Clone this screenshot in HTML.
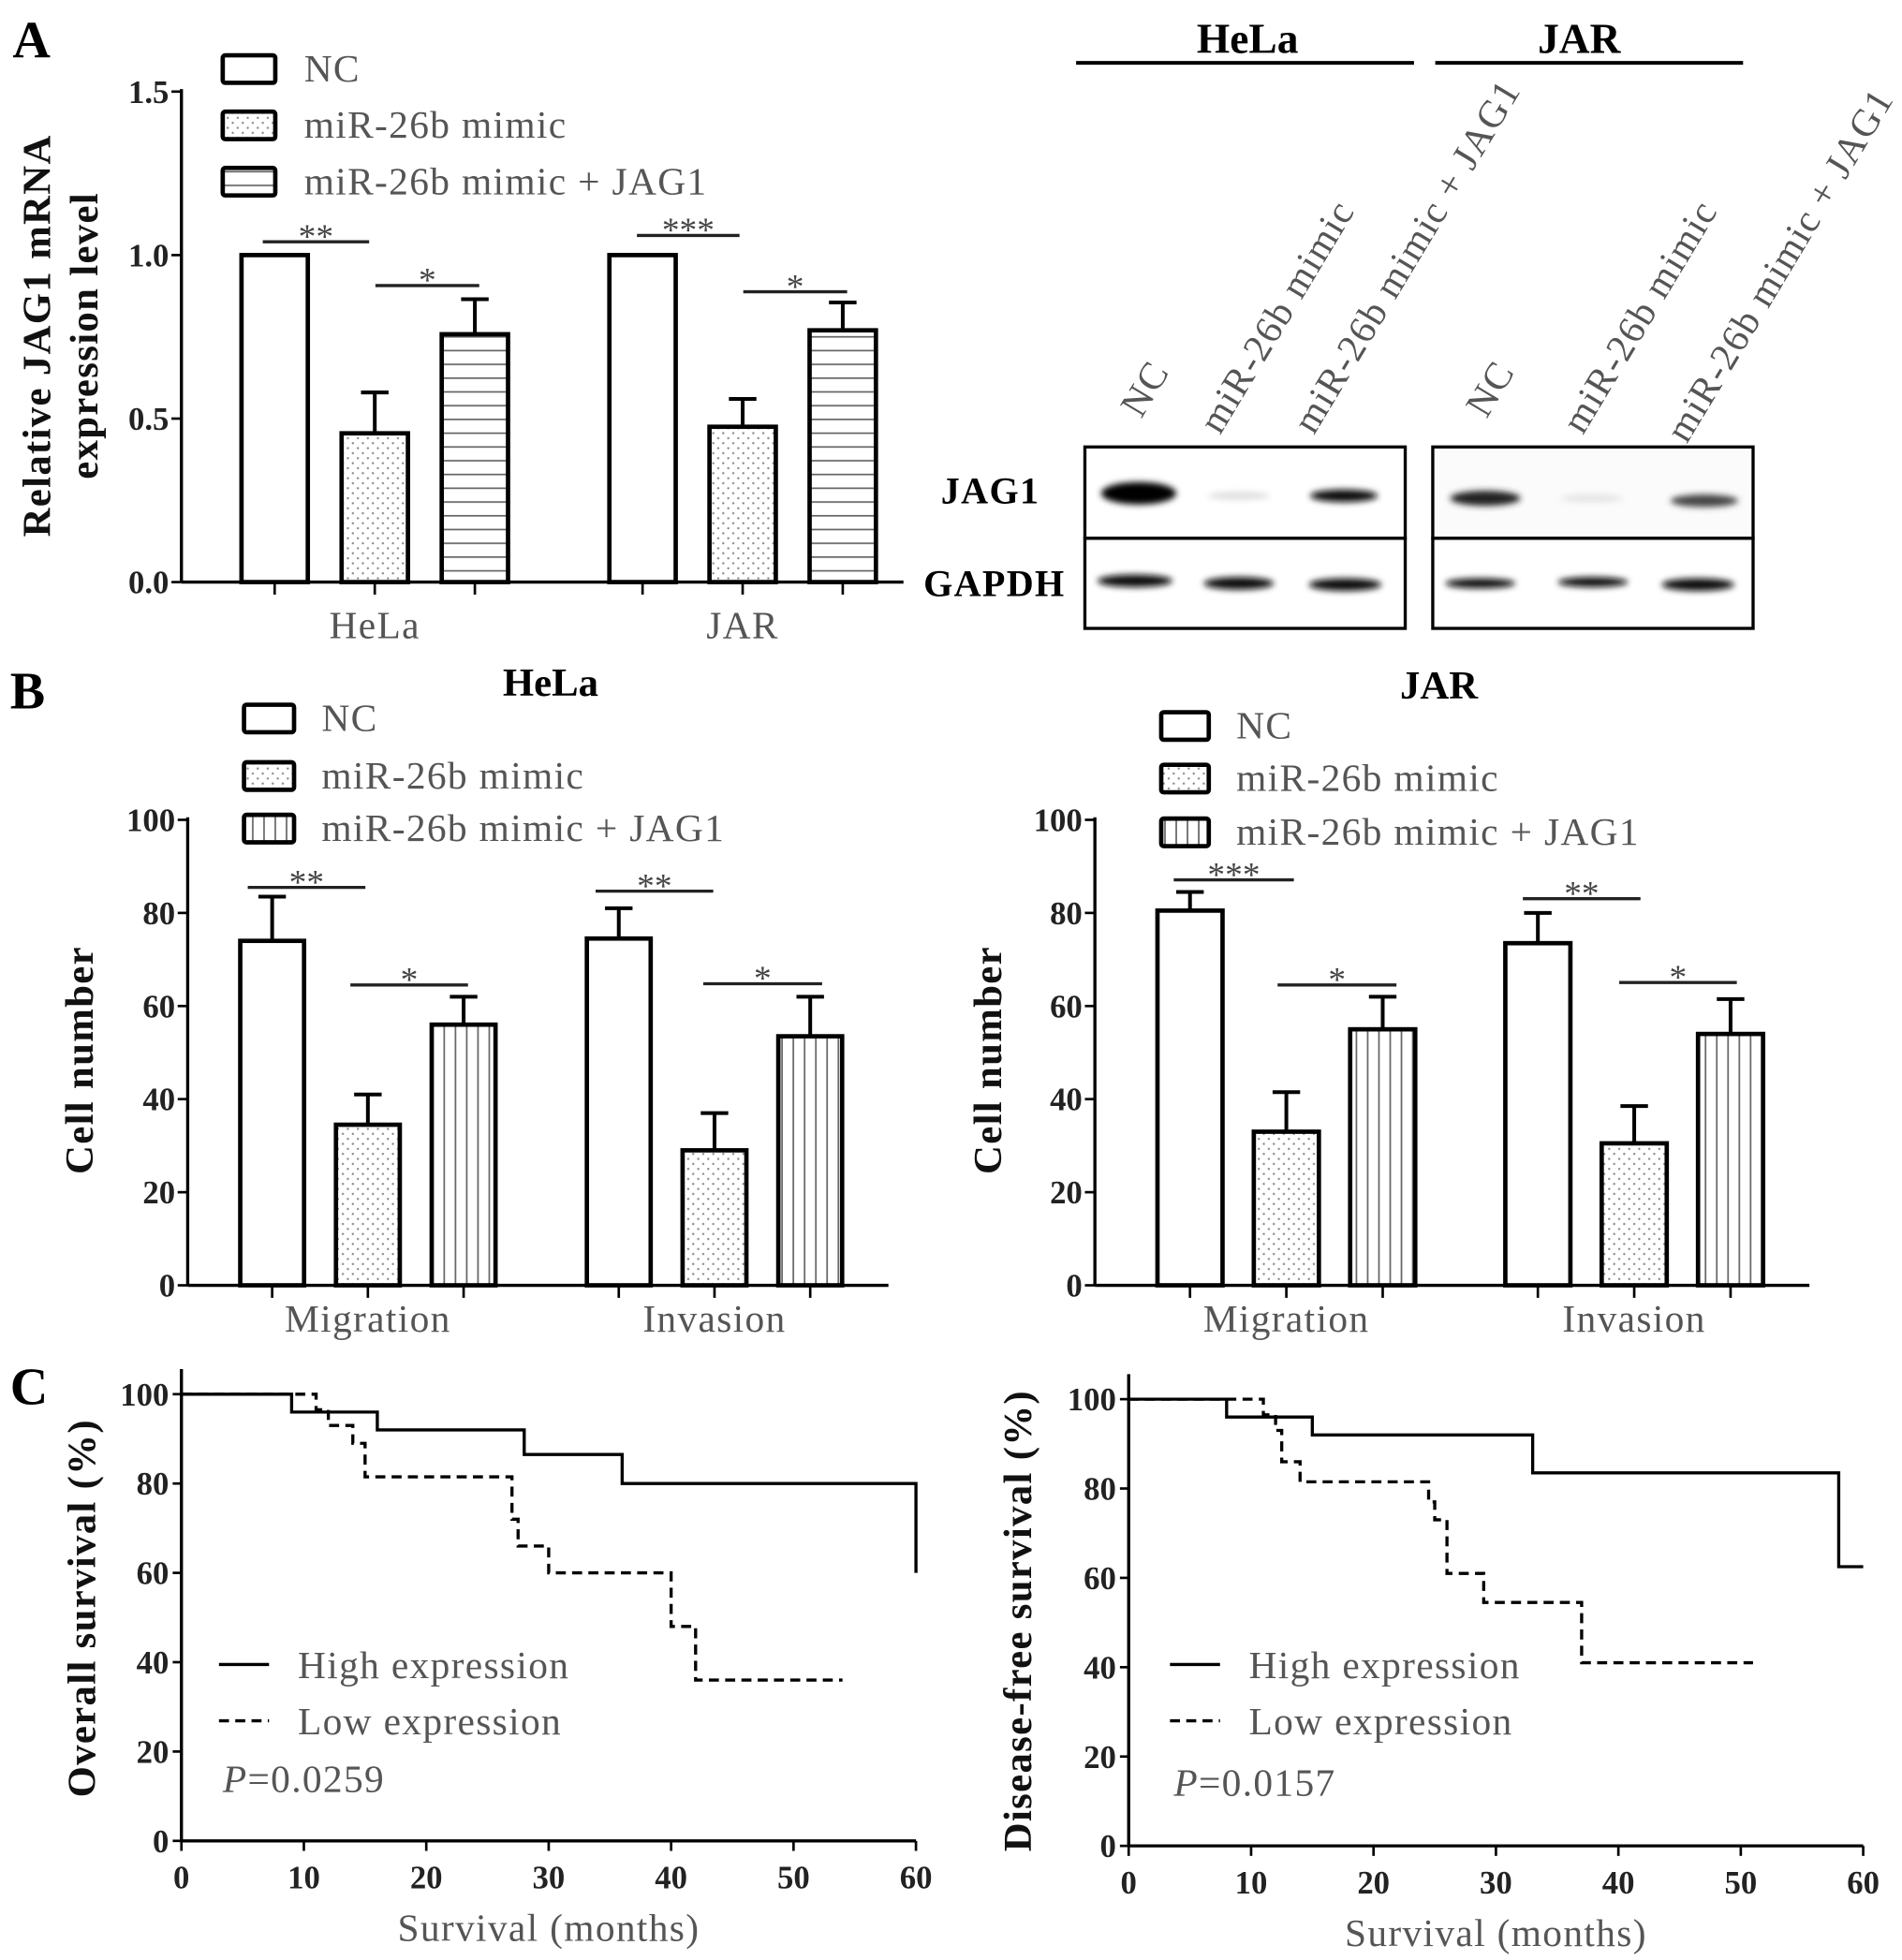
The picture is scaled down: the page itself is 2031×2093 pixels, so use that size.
<!DOCTYPE html>
<html><head><meta charset="utf-8"><style>
html,body{margin:0;padding:0;background:#fff}
svg{display:block}
text{font-family:"Liberation Serif",serif}
.tk{font-size:26px;fill:#222;font-weight:bold}
.lg{font-size:31px;fill:#555;letter-spacing:1px}
.yl{font-size:32px;font-weight:bold;fill:#111;letter-spacing:1px}
</style></head><body>
<svg id="fig" width="2031" height="2093" viewBox="0 0 1520 1566" xmlns="http://www.w3.org/2000/svg">
<defs>
<pattern id="dots" width="8" height="8" patternUnits="userSpaceOnUse"><circle cx="2" cy="2" r="0.9" fill="#888"/><circle cx="6" cy="6" r="0.9" fill="#888"/></pattern>
<pattern id="hstr" width="10" height="11" patternUnits="userSpaceOnUse"><line x1="0" y1="5" x2="10" y2="5" stroke="#666" stroke-width="1.3"/></pattern>
<pattern id="vstr" width="9" height="10" patternUnits="userSpaceOnUse"><line x1="4" y1="0" x2="4" y2="10" stroke="#666" stroke-width="1.3"/></pattern>
<filter id="blur"><feGaussianBlur stdDeviation="2.5"/></filter>
</defs>
<g id="root"></g>
<text x="10" y="46" font-family="Liberation Sans" font-size="42" font-weight="bold">A</text>
<text x="8" y="566" font-family="Liberation Sans" font-size="42" font-weight="bold">B</text>
<text x="8" y="1122" font-family="Liberation Sans" font-size="42" font-weight="bold">C</text>
<g>
<text x="997" y="42" text-anchor="middle" font-size="34" font-weight="bold">HeLa</text>
<line x1="860" y1="50" x2="1130" y2="50" stroke="#000" stroke-width="3"/>
<text x="1262" y="42" text-anchor="middle" font-size="34" font-weight="bold">JAR</text>
<line x1="1147" y1="50" x2="1393" y2="50" stroke="#000" stroke-width="3"/>
<text transform="translate(912,335) rotate(-59)" class="lg">NC</text>
<text transform="translate(975,348) rotate(-59)" class="lg">miR-26b mimic</text>
<text transform="translate(1050,348) rotate(-59)" class="lg">miR-26b mimic + JAG1</text>
<text transform="translate(1188,335) rotate(-59)" class="lg">NC</text>
<text transform="translate(1265,348) rotate(-59)" class="lg">miR-26b mimic</text>
<text transform="translate(1348,355) rotate(-59)" class="lg">miR-26b mimic + JAG1</text>
<text x="752" y="402" font-size="30" font-weight="bold" letter-spacing="1">JAG1</text>
<text x="738" y="476" font-size="30" font-weight="bold" letter-spacing="1">GAPDH</text>
<rect x="867" y="357" width="256" height="73" fill="#fff" stroke="#000" stroke-width="2.5"/>
<rect x="867" y="430" width="256" height="72" fill="#fff" stroke="#000" stroke-width="2.5"/>
<rect x="1145" y="357" width="256" height="73" fill="#fbfbfb" stroke="#000" stroke-width="2.5"/>
<rect x="1145" y="430" width="256" height="72" fill="#fff" stroke="#000" stroke-width="2.5"/>
<g filter="url(#blur)">
<ellipse cx="910" cy="394" rx="30" ry="9" fill="#000"/>
<ellipse cx="990" cy="396" rx="25" ry="3" fill="#ddd"/>
<ellipse cx="1074" cy="396" rx="27" ry="5" fill="#111"/>
<ellipse cx="1187" cy="398" rx="28" ry="6" fill="#222"/>
<ellipse cx="1272" cy="398" rx="25" ry="3" fill="#e3e3e3"/>
<ellipse cx="1362" cy="400" rx="27" ry="5" fill="#444"/>
<ellipse cx="907" cy="464" rx="30" ry="5" fill="#111"/>
<ellipse cx="990" cy="466" rx="28" ry="5" fill="#111"/>
<ellipse cx="1075" cy="467" rx="29" ry="5" fill="#111"/>
<ellipse cx="1183" cy="466" rx="28" ry="4" fill="#111"/>
<ellipse cx="1273" cy="465" rx="28" ry="4" fill="#111"/>
<ellipse cx="1357" cy="467" rx="29" ry="5" fill="#111"/>
</g>
</g>
</svg>
<script>
// ===== Panel A data =====
const aCategories = ["HeLa", "JAR"];
const aSeries = ["NC", "miR-26b mimic", "miR-26b mimic + JAG1"];
const aValues = [[1.0, 0.455, 0.758], [1.0, 0.475, 0.77]];
const aErrors = [[0, 0.125, 0.107], [0, 0.085, 0.085]];
const aTicks = [0, 0.5, 1.0, 1.5];
const aTickLabels = ["0.0", "0.5", "1.0", "1.5"];
// ===== Panel B data =====
const bCategories = ["Migration", "Invasion"];
const bHelaValues = [[74, 34.5, 56], [74.5, 29, 53.5]];
const bHelaErrors = [[9.5, 6.5, 6], [6.5, 8, 8.5]];
const bJarValues = [[80.5, 33, 55], [73.5, 30.5, 54]];
const bJarErrors = [[4, 8.5, 7], [6.5, 8, 7.5]];
const bTicks = [0, 20, 40, 60, 80, 100];
// ===== Panel C data =====
const cXTicks = [0, 10, 20, 30, 40, 50, 60];
const cYTicks = [0, 20, 40, 60, 80, 100];
const osHighT = [0, 9, 16, 28, 36, 60, 60];
const osHighS = [100, 96, 92, 86.5, 80, 80, 60];
const osLowT = [0, 11, 12, 14, 15, 27, 27.5, 29, 30, 40, 42, 54];
const osLowS = [100, 96.5, 93, 89, 81.5, 72, 66, 66, 60, 48, 36, 36];
const dfsHighT = [0, 8, 15, 33, 58, 60];
const dfsHighS = [100, 96, 92, 83.5, 62.5, 62.5];
const dfsLowT = [0, 11, 12, 12.5, 14, 24.5, 25, 26, 29, 37, 51];
const dfsLowS = [100, 96.5, 93, 86, 81.5, 77, 73, 61, 54.5, 41, 41];

const NS = "http://www.w3.org/2000/svg";
const root = document.getElementById("root");
function mk(tag, attrs, parent, txt) {
  const e = document.createElementNS(NS, tag);
  for (const k in attrs) e.setAttribute(k, attrs[k]);
  if (txt !== undefined) e.textContent = txt;
  (parent || root).appendChild(e);
  return e;
}
const fills = ["#fff", "url(#dots)", null];

function barChart(o) {
  const g = mk("g", {});
  
  
  const y = v => o.y0 - (v - o.vmin) / (o.vmax - o.vmin) * (o.y0 - o.y1);
  mk("line", {x1: o.ax, y1: o.y1 - 2, x2: o.ax, y2: o.y0, stroke: "#000", "stroke-width": 2.5}, g);
  mk("line", {x1: o.ax, y1: o.y0, x2: o.axEnd, y2: o.y0, stroke: "#000", "stroke-width": 2.5}, g);
  o.ticks.forEach((t, i) => {
    mk("line", {x1: o.ax - 8, y1: y(t), x2: o.ax, y2: y(t), stroke: "#000", "stroke-width": 2}, g);
    const tl = mk("text", {x: o.ax - 10, y: y(t) + 9, "text-anchor": "end", class: "tk"}, g, o.tickLabels[i]);
    
    
  });
  o.values.forEach((grp, gi) => {
    grp.forEach((v, si) => {
      const x = o.groupX[gi] + si * o.step;
      const top = y(v);
      if (o.errors[gi][si] > 0) {
        const et = y(v + o.errors[gi][si]);
        mk("line", {x1: x + o.bw / 2, y1: et, x2: x + o.bw / 2, y2: top, stroke: "#000", "stroke-width": 3}, g);
        mk("line", {x1: x + o.bw / 2 - 11, y1: et, x2: x + o.bw / 2 + 11, y2: et, stroke: "#000", "stroke-width": 3}, g);
      }
      const r = mk("rect", {x: x, y: top, width: o.bw, height: o.y0 - top, fill: fills[si] || o.stripe, stroke: "#000", "stroke-width": 3.5}, g);
      
      
      mk("line", {x1: x + o.bw / 2, y1: o.y0, x2: x + o.bw / 2, y2: o.y0 + 10, stroke: "#000", "stroke-width": 2}, g);
    });
    const cl = mk("text", {x: o.groupX[gi] + o.step + o.bw / 2, y: o.catY, "text-anchor": "middle", class: "lg", "font-size": 33}, g, o.cats[gi]);
    
    
  });
  const yl = mk("g", {transform: "translate(" + o.ylx + "," + o.yly + ") rotate(-90)"}, g);
  o.ylabel.forEach((l, i) => {
    const t = mk("text", {x: 0, y: i * 38, "text-anchor": "middle", class: "yl", "font-size": o.ylfs}, yl, l);
    
    
  });
  o.legend.forEach((ly, i) => {
    mk("rect", {x: o.legX, y: ly - 11, width: o.legW, height: 22, fill: fills[i] || o.stripe, stroke: "#000", "stroke-width": 3.5, rx: 2}, g);
    const t = mk("text", {x: o.legTX, y: ly + 10, class: "lg"}, g, aSeries[i]);
    
    
  });
  o.sig.forEach(s => {
    mk("line", {x1: s[0], y1: s[2], x2: s[1], y2: s[2], stroke: "#222", "stroke-width": 2.5}, g);
    const t = mk("text", {x: (s[0] + s[1]) / 2, y: s[2] + 5, "text-anchor": "middle", "font-size": 28, fill: "#444"}, g, s[3]);
    
    
  });
  if (o.title) {
    const t = mk("text", {x: o.title[1], y: o.title[2], "text-anchor": "middle", "font-size": 32, "font-weight": "bold"}, g, o.title[0]);
    
    
  }
}

barChart({name: "jag1-mrna-chart", ax: 145, axEnd: 722, y0: 465, y1: 73, vmin: 0, vmax: 1.5,
  ticks: aTicks, tickLabels: aTickLabels, values: aValues, errors: aErrors, cats: aCategories,
  groupX: [193, 487], step: 80, bw: 53, stripe: "url(#hstr)", catY: 510,
  ylx: 40, yly: 268, ylfs: 31, ylabel: ["Relative JAG1 mRNA", "expression level"],
  legend: [55, 100, 145], legX: 178, legW: 42, legTX: 243,
  sig: [[210, 295, 193, "**"], [300, 383, 228, "*"], [509, 591, 188, "***"], [594, 677, 233, "*"]]});

barChart({name: "hela-cell-number-chart", ax: 150, axEnd: 710, y0: 1027, y1: 655, vmin: 0, vmax: 100,
  ticks: bTicks, tickLabels: bTicks.map(String), values: bHelaValues, errors: bHelaErrors, cats: bCategories,
  groupX: [192, 469], step: 76.5, bw: 51, stripe: "url(#vstr)", catY: 1064,
  ylx: 74, yly: 847, ylfs: 34, ylabel: ["Cell number"],
  legend: [574, 620, 662], legX: 195, legW: 40, legTX: 257,
  sig: [[198, 292, 709, "**"], [280, 374, 787, "*"], [476, 570, 712, "**"], [562, 657, 786, "*"]],
  title: ["HeLa", 440, 556]});

barChart({name: "jar-cell-number-chart", ax: 875, axEnd: 1446, y0: 1027, y1: 655, vmin: 0, vmax: 100,
  ticks: bTicks, tickLabels: bTicks.map(String), values: bJarValues, errors: bJarErrors, cats: bCategories,
  groupX: [925, 1203], step: 77, bw: 52, stripe: "url(#vstr)", catY: 1064,
  ylx: 800, yly: 847, ylfs: 34, ylabel: ["Cell number"],
  legend: [580, 622, 665], legX: 928, legW: 38, legTX: 988,
  sig: [[938, 1034, 703, "***"], [1021, 1116, 787, "*"], [1217, 1311, 718, "**"], [1294, 1388, 785, "*"]],
  title: ["JAR", 1150, 558]});

function kmChart(o) {
  const g = mk("g", {});
  
  
  const x = t => o.ax + t / 60 * (o.xEnd - o.ax);
  const y = s => o.y0 - s / 100 * (o.y0 - o.y100);
  mk("line", {x1: o.ax, y1: o.y100 - 20, x2: o.ax, y2: o.y0, stroke: "#000", "stroke-width": 2.5}, g);
  mk("line", {x1: o.ax, y1: o.y0, x2: o.xEnd, y2: o.y0, stroke: "#000", "stroke-width": 2.5}, g);
  cYTicks.forEach(t => {
    mk("line", {x1: o.ax - 7, y1: y(t), x2: o.ax, y2: y(t), stroke: "#000", "stroke-width": 2}, g);
    const tl = mk("text", {x: o.ax - 10, y: y(t) + 9, "text-anchor": "end", class: "tk", "font-size": 28}, g, String(t));
    
    
  });
  cXTicks.forEach(t => {
    mk("line", {x1: x(t), y1: o.y0, x2: x(t), y2: o.y0 + 8, stroke: "#000", "stroke-width": 2}, g);
    const tl = mk("text", {x: x(t), y: o.y0 + 38, "text-anchor": "middle", class: "tk", "font-size": 28}, g, String(t));
    
    
  });
  const xt = mk("text", {x: (o.ax + o.xEnd) / 2, y: o.y0 + 80, "text-anchor": "middle", class: "lg", "font-size": 34}, g, "Survival (months)");
  
  
  const yt = mk("text", {transform: "translate(" + o.ylx + "," + o.yly + ") rotate(-90)", "text-anchor": "middle", class: "yl", "font-size": 38, "letter-spacing": 2}, g, o.ylabel);
  
  
  function step(T, S, dash, nm) {
    let d = "M" + x(T[0]) + "," + y(S[0]);
    for (let i = 1; i < T.length; i++) d += " H" + x(T[i]) + " V" + y(S[i]);
    const p = mk("path", {d: d, fill: "none", stroke: "#000", "stroke-width": 2.5, "stroke-dasharray": dash}, g);
    
    
  }
  step(o.lowT, o.lowS, "8,5", "low-expression-curve");
  step(o.highT, o.highS, "none", "high-expression-curve");
  mk("line", {x1: o.legX, y1: o.legY, x2: o.legX + 40, y2: o.legY, stroke: "#000", "stroke-width": 2.5}, g);
  mk("line", {x1: o.legX, y1: o.legY + 45, x2: o.legX + 40, y2: o.legY + 45, stroke: "#000", "stroke-width": 2.5, "stroke-dasharray": "8,5"}, g);
  const l1 = mk("text", {x: o.legX + 63, y: o.legY + 11, class: "lg", "font-size": 33}, g, "High expression");
  
  
  const l2 = mk("text", {x: o.legX + 63, y: o.legY + 56, class: "lg", "font-size": 33}, g, "Low expression");
  
  
  const pt = mk("text", {x: o.legX + 3, y: o.pY, class: "lg", "font-size": 34}, g);
  
  
  mk("tspan", {"font-style": "italic"}, pt, "P");
  mk("tspan", {}, pt, o.p);
}
kmChart({name: "overall-survival-chart", ax: 145, xEnd: 732, y0: 1471, y100: 1114, ylx: 76, yly: 1285,
  ylabel: "Overall survival (%)", highT: osHighT, highS: osHighS, lowT: osLowT, lowS: osLowS,
  legX: 175, legY: 1330, pY: 1432, p: "=0.0259"});
kmChart({name: "disease-free-survival-chart", ax: 902, xEnd: 1489, y0: 1475, y100: 1118, ylx: 824, yly: 1295,
  ylabel: "Disease-free survival (%)", highT: dfsHighT, highS: dfsHighS, lowT: dfsLowT, lowS: dfsLowS,
  legX: 935, legY: 1330, pY: 1435, p: "=0.0157"});
</script>
</body></html>
